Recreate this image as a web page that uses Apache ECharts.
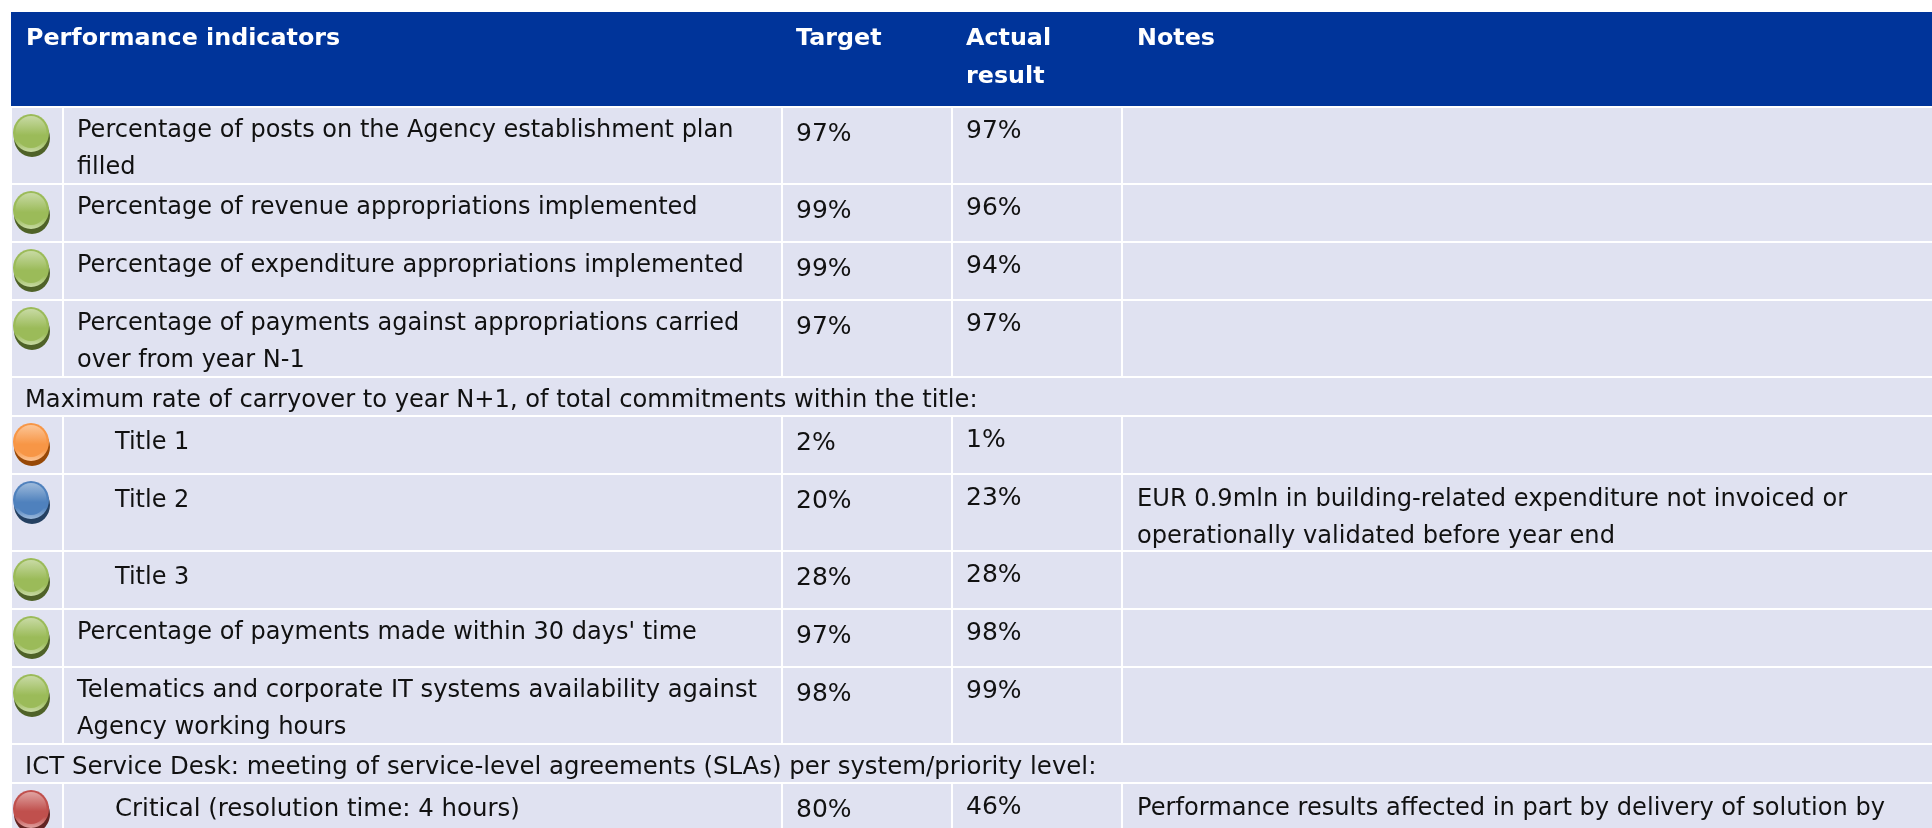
<!DOCTYPE html>
<html><head><meta charset="utf-8">
<style>html,body{margin:0;padding:0;background:#fff}#c{width:1932px;height:828px}</style>
<script src="https://cdn.jsdelivr.net/npm/echarts@6/dist/echarts.min.js"></script>
</head><body><div id="c"></div>
<script>
const headers = ['Performance indicators', 'Target', 'Actual\nresult', 'Notes'];
const indicators = [
 'Percentage of posts on the Agency establishment plan\nfilled',
 'Percentage of revenue appropriations implemented',
 'Percentage of expenditure appropriations implemented',
 'Percentage of payments against appropriations carried\nover from year N-1',
 'Maximum rate of carryover to year N+1, of total commitments within the title:',
 'Title 1','Title 2','Title 3',
 "Percentage of payments made within 30 days' time",
 'Telematics and corporate IT systems availability against\nAgency working hours',
 'ICT Service Desk: meeting of service-level agreements (SLAs) per system/priority level:',
 'Critical (resolution time: 4 hours)'
];
const kinds = ['row','row','row','row','span','sub','sub','sub','row','row','span','sub'];
const statuses = ['green','green','green','green',null,'orange','blue','green','green','green',null,'red'];
const targets = ['97%','99%','99%','97%','','2%','20%','28%','97%','98%','','80%'];
const actuals = ['97%','96%','94%','97%','','1%','23%','28%','98%','99%','','46%'];
const notes = ['','','','','','',
 'EUR 0.9mln in building-related expenditure not invoiced or\noperationally validated before year end',
 '','','','','Performance results affected in part by delivery of solution by'];

const palette = {
 green:['#c8daa4','#9bbb59','#4f6228'],
 orange:['#fcc596','#f79646','#974806'],
 blue:['#9dbadb','#4f81bd','#244061'],
 red:['#e0a3a1','#c0504d','#632523']
};
const FONT = '"DejaVu Sans", Verdana, sans-serif';
const TOP = 108, H1 = 58, H2 = 77, HS = 39, GAP = 2, LH = 37;
const colEdges = [12, 64, 783, 953, 1123, 1932];
const labelStretch = {4:1.0065, 9:1.009, 10:1.0176, 11:1.0186};
const rowH = indicators.map((s,i)=> kinds[i]==='span'?HS:((s.includes('\n')||notes[i].includes('\n'))?H2:H1));
const rowTop = []; rowH.reduce((y,h,i)=>(rowTop[i]=y,y+h),TOP);

function txt(api,x,cy,text,o,lh,sx){
  const L = lh||LH, p = api.coord([x,cy-L/2]);
  return {type:'text',x:p[0],y:p[1],scaleX:sx||1,silent:true,style:Object.assign({text:text,fill:'#111',
    font:'24px '+FONT,lineHeight:L,align:'left',verticalAlign:'top'},o||{})};
}
function rect(api,x0,y0,x1,y1,fill){
  const a=api.coord([x0,y0]),b=api.coord([x1,y1]);
  return {type:'rect',shape:{x:a[0],y:a[1],width:b[0]-a[0],height:b[1]-a[1]},style:{fill:fill},silent:true};
}
function vgrad(stops){
  return {type:'linear',x:0,y:0,x2:0,y2:1,colorStops:stops.map(s=>({offset:s[0],color:s[1]}))};
}
function renderRow(params,api){
  const i=api.value(0), t=rowTop[i], b=t+rowH[i]-GAP, ch=[];
  const fill='#e0e2f1', sx=labelStretch[i]||1;
  if(kinds[i]==='span'){
    ch.push(rect(api,colEdges[0],t,colEdges[5],b,fill));
    ch.push(txt(api,25,t+22.5,indicators[i],null,LH,sx));
  } else {
    for(let c=0;c<5;c++) ch.push(rect(api,colEdges[c],t,colEdges[c+1]-(c<4?2:0),b,fill));
    const pal=palette[statuses[i]];
    const cp=api.coord([31,t+25]);
    ch.push({type:'ellipse',shape:{cx:cp[0]+1,cy:cp[1]+5,rx:18,ry:19},style:{fill:pal[2]},silent:true});
    ch.push({type:'ellipse',shape:{cx:cp[0],cy:cp[1],rx:18,ry:19},style:{fill:vgrad([[0,pal[1]],[0.7,pal[1]],[1,pal[0]]])},silent:true});
    ch.push({type:'ellipse',shape:{cx:cp[0],cy:cp[1]-1,rx:15.5,ry:16},style:{fill:vgrad([[0,pal[0]],[0.6,pal[1]],[1,pal[1]]])},silent:true});
    const sub = kinds[i]==='sub';
    ch.push(txt(api,sub?115:77,t+(sub?25.5:22.5),indicators[i],null,LH,sx));
    ch.push(txt(api,796,t+26.5,targets[i],{font:'25px '+FONT}));
    ch.push(txt(api,966,t+23.5,actuals[i],{font:'25px '+FONT}));
    if(notes[i]) ch.push(txt(api,1137,t+24.5,notes[i],null,LH,1.005));
  }
  return {type:'group',children:ch};
}
function renderHeader(params,api){
  const ch=[rect(api,11,12,1932,106,'#00349a')];
  const xs=[26,796,966,1137];
  headers.forEach((h,i)=>ch.push(txt(api,xs[i],37,h,{fill:'#fff',font:'bold 23.8px '+FONT},38)));
  ch.slice(1).forEach(e=>{e.y+=1.5;});
  return {type:'group',children:ch};
}
const chart=echarts.init(document.getElementById('c'),null,{renderer:'canvas'});
chart.setOption({
  animation:false,
  grid:{left:0,right:0,top:0,bottom:0},
  xAxis:{type:'value',min:0,max:1932,show:false},
  yAxis:{type:'value',min:0,max:828,inverse:true,show:false},
  series:[
   {type:'custom',coordinateSystem:'cartesian2d',clip:true,silent:true,data:[[0]],renderItem:renderHeader,encode:{x:0,y:0}},
   {type:'custom',coordinateSystem:'cartesian2d',clip:true,silent:true,data:indicators.map((s,i)=>[i]),renderItem:renderRow,encode:{x:0,y:0}}
  ]
});
</script></body></html>
